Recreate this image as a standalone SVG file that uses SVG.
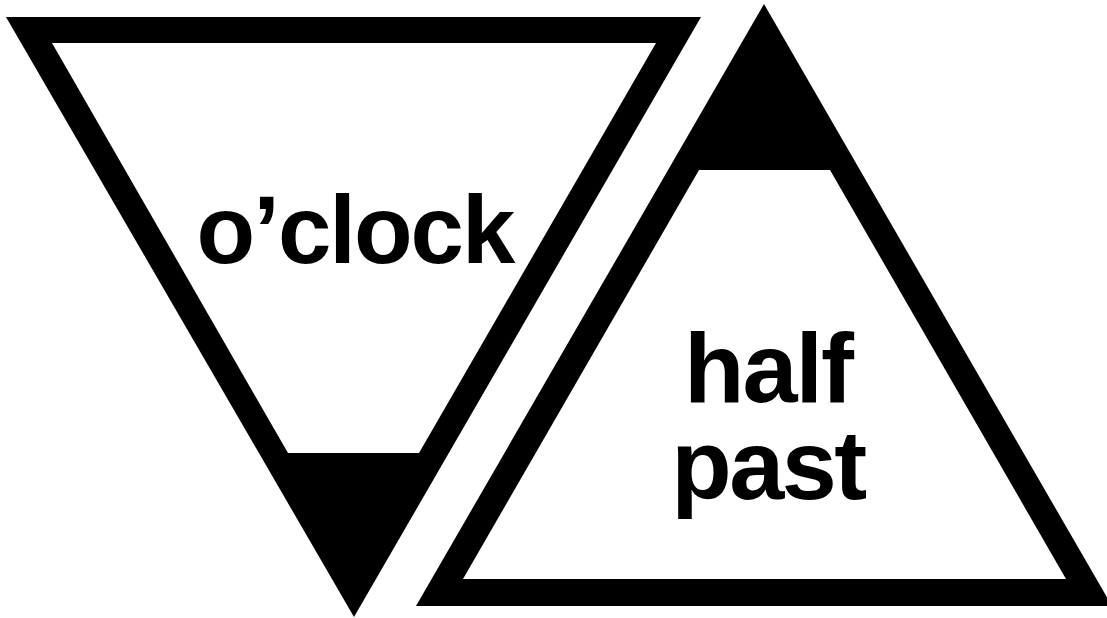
<svg xmlns="http://www.w3.org/2000/svg" width="1107" height="618" viewBox="0 0 1107 618">
<style>
.outer{fill:#000}
.inner{fill:#fff}
.lbl{font-family:"Liberation Sans",Arial,sans-serif;font-weight:bold;fill:#000;text-anchor:middle}
</style>
<rect width="1107" height="618" fill="#fff"/>
<g id="oclock">
<polygon class="outer" points="6,17 701,17 354,617"/>
<polygon class="inner" points="52,43 656,43 419,453 288,453"/>
<text class="lbl" x="355" y="263" font-size="96" letter-spacing="-2">o’clock</text>
</g>
<g id="halfpast">
<polygon class="outer" points="764,4 416,606 1112,606"/>
<polygon class="inner" points="699,170 830,170 1066,579 463,579"/>
<text class="lbl" font-size="99" letter-spacing="-2"><tspan x="768" y="402">half</tspan><tspan x="768" y="499" letter-spacing="-2.5">past</tspan></text>
</g>
<g id="connectors"></g>
</svg>
